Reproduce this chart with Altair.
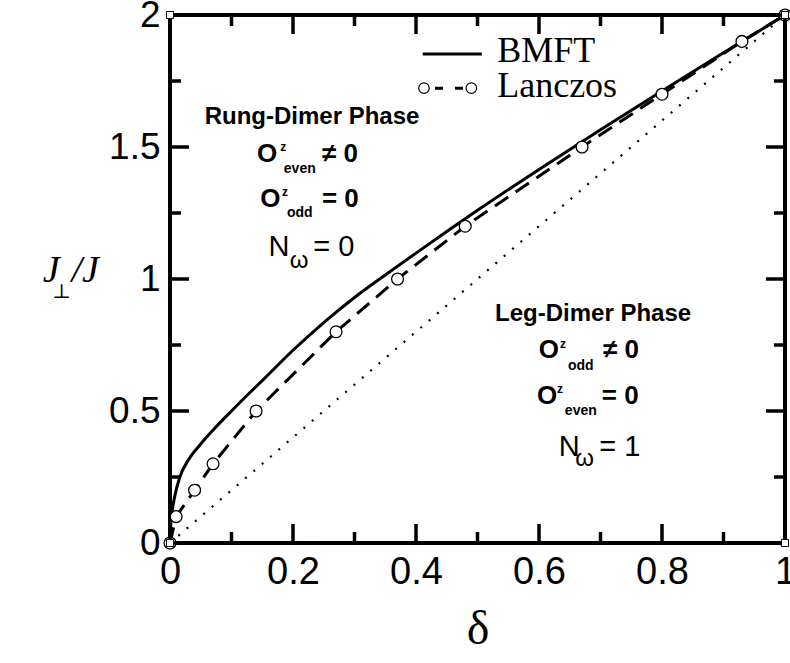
import altair as alt
import pandas as pd

# ---- data -------------------------------------------------------------
bmft_delta = [0.0, 0.001, 0.003, 0.008, 0.016, 0.03, 0.05, 0.075, 0.1, 0.13, 0.15,
              0.2, 0.25, 0.3, 0.35, 0.4, 0.45, 0.5, 0.6, 0.7, 0.8, 0.9, 1.0]
bmft_j = [0.0, 0.06, 0.11, 0.18, 0.25, 0.315, 0.375, 0.44, 0.5, 0.57, 0.615,
          0.73, 0.835, 0.93, 1.015, 1.098, 1.18, 1.26, 1.415, 1.565, 1.712, 1.857, 2.0]

lanczos_delta = [0.0, 0.01, 0.04, 0.07, 0.14, 0.27, 0.37, 0.48, 0.67, 0.80, 0.93, 1.0]
lanczos_j = [0.0, 0.1, 0.2, 0.3, 0.5, 0.8, 1.0, 1.2, 1.5, 1.7, 1.9, 2.0]

diag_delta = [0.0, 1.0]
diag_j = [0.0, 2.0]

x_major = [0.0, 0.2, 0.4, 0.6, 0.8, 1.0]
x_minor = [0.1, 0.3, 0.5, 0.7, 0.9]
y_major = [0.0, 0.5, 1.0, 1.5, 2.0]
y_minor = [0.25, 0.75, 1.25, 1.75]

W, H = 615, 528
XD = [0, 1]
YD = [0, 2]

bmft = pd.DataFrame({"delta": bmft_delta, "j": bmft_j})
lanczos = pd.DataFrame({"delta": lanczos_delta, "j": lanczos_j})
diag = pd.DataFrame({"delta": diag_delta, "j": diag_j})

xs = alt.Scale(domain=XD, nice=False, zero=False)
ys = alt.Scale(domain=YD, nice=False, zero=False)

X = alt.X("delta:Q", scale=xs,
          axis=alt.Axis(values=x_major, domain=False, ticks=False, grid=False,
                        labelExpr="datum.value == 0 ? '0' : datum.value == 1 ? '1' : format(datum.value, '.1f')",
                        labelFont="Liberation Sans", labelFontSize=38, labelColor="black",
                        labelPadding=10, labelFlush=False, labelOverlap=False,
                        title="δ", titleFont="Liberation Serif", titleFontSize=48,
                        titleFontWeight="normal", titleColor="black", titlePadding=14))
Y = alt.Y("j:Q", scale=ys,
          axis=alt.Axis(values=y_major, domain=False, ticks=False, grid=False,
                        labelExpr="datum.value == 0 ? '0' : datum.value == 1 ? '1' : datum.value == 2 ? '2' : format(datum.value, '.1f')",
                        labelFont="Liberation Sans", labelFontSize=37, labelColor="black",
                        labelPadding=10, labelFlush=False, labelOverlap=False, title=None))

# reference diagonal J_perp = 2 delta
diag_line = alt.Chart(diag).mark_line(color="black", strokeWidth=2.2,
                                      strokeDash=[2, 9]).encode(x=X, y=Y)

bmft_line = alt.Chart(bmft).mark_line(color="black", strokeWidth=3,
                                      interpolate="monotone").encode(x=X, y=Y)

lanczos_line = alt.Chart(lanczos).mark_line(color="black", strokeWidth=3,
                                            strokeDash=[16, 9]).encode(x=X, y=Y)
lanczos_pts = alt.Chart(lanczos).mark_point(shape="circle", size=140, filled=True,
                                            fill="white", stroke="black",
                                            strokeWidth=1.3, opacity=1).encode(x=X, y=Y)

# inward tick marks on all four sides
MAJ_Y, MIN_Y = 19 / H * 2, 11 / H * 2
MAJ_X, MIN_X = 19 / W, 11 / W
vsegs = []
for v in x_major:
    vsegs += [(v, 0.0, MAJ_Y), (v, 2.0, 2 - MAJ_Y)]
for v in x_minor:
    vsegs += [(v, 0.0, MIN_Y), (v, 2.0, 2 - MIN_Y)]
hsegs = []
for v in y_major:
    hsegs += [(v, 0.0, MAJ_X), (v, 1.0, 1 - MAJ_X)]
for v in y_minor:
    hsegs += [(v, 0.0, MIN_X), (v, 1.0, 1 - MIN_X)]
vt = pd.DataFrame(vsegs, columns=["delta", "j", "j2"])
ht = pd.DataFrame(hsegs, columns=["j", "delta", "delta2"])
v_ticks = alt.Chart(vt).mark_rule(color="black", strokeWidth=3.5).encode(
    x=alt.X("delta:Q", scale=xs), y=alt.Y("j:Q", scale=ys), y2="j2:Q")
h_ticks = alt.Chart(ht).mark_rule(color="black", strokeWidth=3.5).encode(
    y=alt.Y("j:Q", scale=ys), x=alt.X("delta:Q", scale=xs), x2="delta2:Q")

corners = pd.DataFrame({"delta": [0, 1, 0, 1], "j": [0, 0, 2, 2]})
corner_pts = alt.Chart(corners).mark_point(shape="square", size=50, filled=True,
                                           fill="white", stroke="black",
                                           strokeWidth=1, opacity=1).encode(x=X, y=Y)


def label(rows, **style):
    df = pd.DataFrame(rows, columns=["delta", "j", "text"])
    params = dict(color="black", baseline="middle")
    params.update(style)
    return alt.Chart(df).mark_text(**params).encode(
        x=alt.X("delta:Q", scale=xs), y=alt.Y("j:Q", scale=ys), text="text:N")


# legend
leg_solid = pd.DataFrame({"delta": [0.411, 0.507], "j": [1.852, 1.852]})
leg_dash = pd.DataFrame({"delta": [0.413, 0.49], "j": [1.723, 1.723]})
legend_layers = [
    alt.Chart(leg_solid).mark_line(color="black", strokeWidth=3).encode(x=X, y=Y),
    alt.Chart(leg_dash).mark_line(color="black", strokeWidth=3,
                                  strokeDash=[8, 12], strokeDashOffset=-11).encode(x=X, y=Y),
    alt.Chart(leg_dash).mark_point(shape="circle", size=110, filled=True, fill="white",
                                   stroke="black", strokeWidth=1.2, opacity=1).encode(x=X, y=Y),
    label([(0.532, 1.862, "BMFT"), (0.532, 1.73, "Lanczos")],
          align="left", font="Liberation Serif", fontSize=36),
]

SANS = "Liberation Sans"
phase_layers = [
    label([(0.231, 1.614, "Rung-Dimer Phase"), (0.688, 0.867, "Leg-Dimer Phase")],
          align="center", font=SANS, fontSize=24, fontWeight="bold"),
    label([(0.158, 1.473, "O"), (0.163, 1.303, "O"), (0.616, 0.731, "O"), (0.613, 0.557, "O")],
          align="center", font=SANS, fontSize=26, fontWeight="bold"),
    label([(0.184, 1.50, "z"), (0.187, 1.33, "z"), (0.639, 0.755, "z"), (0.634, 0.585, "z")],
          align="center", font=SANS, fontSize=12, fontWeight="bold"),
    label([(0.211, 1.415, "even"), (0.211, 1.25, "odd"), (0.668, 0.67, "odd"), (0.668, 0.50, "even")],
          align="center", font=SANS, fontSize=14, fontWeight="bold"),
    label([(0.247, 1.473, "\u2260 0"), (0.247, 1.303, "= 0"), (0.704, 0.731, "\u2260 0"), (0.702, 0.557, "= 0")],
          align="left", font=SANS, fontSize=26, fontWeight="bold"),
    label([(0.177, 1.121, "N"), (0.649, 0.364, "N")],
          align="center", font=SANS, fontSize=29),
    label([(0.21, 1.068, "\u03c9"), (0.674, 0.318, "\u03c9")],
          align="center", font=SANS, fontSize=24),
    label([(0.233, 1.121, "= 0"), (0.698, 0.364, "= 1")],
          align="left", font=SANS, fontSize=29),
]

# y-axis title J_perp / J
ytitle_layers = [
    label([(-0.193, 1.03, "J"), (-0.138, 1.03, "/J")],
          align="center", font="Liberation Serif", fontSize=38, fontStyle="italic"),
    label([(-0.176, 0.952, "\u22a5")], align="center", font="DejaVu Serif", fontSize=20),
]

chart = alt.layer(
    diag_line, bmft_line, lanczos_line, lanczos_pts, v_ticks, h_ticks, corner_pts,
    *legend_layers, *phase_layers, *ytitle_layers,
).properties(
    width=W, height=H,
    background="white",
    padding={"left": 170, "top": 15, "right": 5, "bottom": 120},
    autosize=alt.AutoSizeParams(type="none"),
).configure_view(
    stroke="black", strokeWidth=4
)

chart.save("out.html", embed_options={"renderer": "svg", "actions": False})
